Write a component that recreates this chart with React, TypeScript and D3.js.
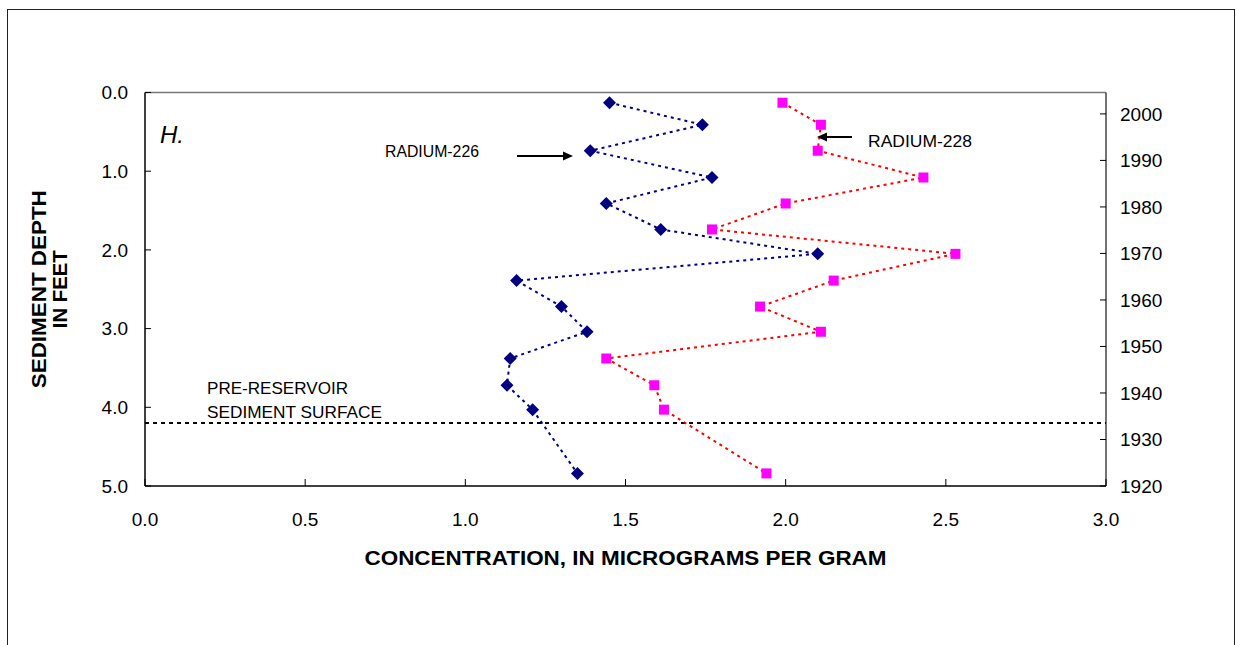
import React from 'react';
import * as d3 from 'd3';

// sample depths (feet) shared by both series
const depths = [0.13, 0.41, 0.74, 1.08, 1.41, 1.74, 2.05, 2.39, 2.72, 3.04, 3.38, 3.72, 4.03, 4.84];
const radium226 = [1.45, 1.74, 1.39, 1.77, 1.44, 1.61, 2.10, 1.16, 1.30, 1.38, 1.14, 1.13, 1.21, 1.35];
const radium228 = [1.99, 2.11, 2.10, 2.43, 2.00, 1.77, 2.53, 2.15, 1.92, 2.11, 1.44, 1.59, 1.62, 1.94];

const xTicks = [0, 0.5, 1, 1.5, 2, 2.5, 3];
const depthTicks = [0, 1, 2, 3, 4, 5];
const yearTicks = [2000, 1990, 1980, 1970, 1960, 1950, 1940, 1930, 1920];
const preReservoirDepth = 4.2;

const W = 1236;
const H = 645;
const plot = { left: 145, right: 1106, top: 92.5, bottom: 486 };
const font = '"Liberation Sans", Arial, sans-serif';

export default function App() {
  const x = d3.scaleLinear().domain([0, 3]).range([plot.left, plot.right]);
  const y = d3.scaleLinear().domain([0, 5]).range([plot.top, plot.bottom]);
  const yYear = d3.scaleLinear().domain([1920, 2004.6]).range([plot.bottom, plot.top]);

  const pts226 = depths.map((d, i) => [x(radium226[i]), y(d)] as [number, number]);
  const pts228 = depths.map((d, i) => [x(radium228[i]), y(d)] as [number, number]);
  const line = d3.line();

  const diamond = (cx: number, cy: number, r = 6.5) =>
    `M${cx},${cy - r}L${cx + r},${cy}L${cx},${cy + r}L${cx - r},${cy}Z`;

  const midY = (plot.top + plot.bottom) / 2;

  return (
    <svg width={W} height={H} style={{ position: 'absolute', left: 0, top: 0, background: '#fff' }}
      fontFamily={font}>
      <rect x={7.5} y={9.5} width={1227} height={700} fill="none" stroke="#222" strokeWidth={1} />

      {/* plot frame */}
      <line x1={plot.left} x2={plot.right} y1={plot.top} y2={plot.top} stroke="#777" strokeWidth={1.5} />
      <line x1={plot.right} x2={plot.right} y1={plot.top} y2={plot.bottom} stroke="#444" strokeWidth={1.5} />
      <line x1={plot.left} x2={plot.left} y1={plot.top} y2={plot.bottom} stroke="#000" strokeWidth={1.5} />
      <line x1={plot.left} x2={plot.right} y1={plot.bottom} y2={plot.bottom} stroke="#000" strokeWidth={1.5} />

      {/* left axis */}
      {depthTicks.map(t => (
        <g key={'d' + t}>
          <line x1={plot.left} x2={plot.left + 6} y1={y(t)} y2={y(t)} stroke="#000" />
          <text x={plot.left - 17} y={y(t)} dy="0.35em" textAnchor="end" fontSize={19}>{t.toFixed(1)}</text>
        </g>
      ))}
      {/* right axis (years) */}
      {yearTicks.map(t => (
        <g key={'y' + t}>
          <line x1={plot.right - 6} x2={plot.right} y1={yYear(t)} y2={yYear(t)} stroke="#000" />
          <text x={plot.right + 14} y={yYear(t)} dy="0.35em" textAnchor="start" fontSize={19}>{t}</text>
        </g>
      ))}
      {/* bottom axis */}
      {xTicks.map(t => (
        <g key={'x' + t}>
          <line x1={x(t)} x2={x(t)} y1={plot.bottom} y2={plot.bottom - 7} stroke="#000" />
          <text x={x(t)} y={plot.bottom + 33} dy="0.35em" textAnchor="middle" fontSize={19}>{t.toFixed(1)}</text>
        </g>
      ))}

      <text x={(plot.left + plot.right) / 2} y={558} dy="0.35em" textAnchor="middle" fontSize={20}
        fontWeight="bold" textLength={522} lengthAdjust="spacingAndGlyphs">
        CONCENTRATION, IN MICROGRAMS PER GRAM
      </text>
      <text transform={`translate(39,${midY}) rotate(-90)`} dy="0.35em" textAnchor="middle"
        fontSize={20} fontWeight="bold" textLength={198} lengthAdjust="spacingAndGlyphs">SEDIMENT DEPTH</text>
      <text transform={`translate(60,${midY}) rotate(-90)`} dy="0.35em" textAnchor="middle"
        fontSize={20} fontWeight="bold" textLength={78} lengthAdjust="spacingAndGlyphs">IN FEET</text>

      {/* pre-reservoir surface */}
      <line x1={plot.left} x2={plot.right} y1={y(preReservoirDepth)} y2={y(preReservoirDepth)}
        stroke="#000" strokeWidth={2} strokeDasharray="4,4" />
      <text x={207} y={y(preReservoirDepth) - 29} fontSize={17} textLength={141} lengthAdjust="spacingAndGlyphs">PRE-RESERVOIR</text>
      <text x={207} y={y(preReservoirDepth) - 5} fontSize={17} textLength={175} lengthAdjust="spacingAndGlyphs">SEDIMENT SURFACE</text>

      <text x={160} y={143} fontSize={24} fontStyle="italic">H.</text>

      {/* series */}
      <path d={line(pts228) ?? ''} fill="none" stroke="#ff0000" strokeWidth={2} strokeDasharray="3,4" />
      <path d={line(pts226) ?? ''} fill="none" stroke="#000080" strokeWidth={2} strokeDasharray="3,4" />
      {pts228.map(([cx, cy], i) => (
        <rect key={'s' + i} x={cx - 5} y={cy - 5} width={10} height={10} fill="#ff00ff" />
      ))}
      {pts226.map(([cx, cy], i) => (
        <path key={'r' + i} d={diamond(cx, cy)} fill="#000080" />
      ))}

      {/* annotations */}
      <text x={385} y={157} fontSize={17} textLength={94} lengthAdjust="spacingAndGlyphs">RADIUM-226</text>
      <line x1={517} x2={566} y1={156} y2={156} stroke="#000" strokeWidth={2} />
      <path d="M573,156 L563,151.5 L563,160.5 Z" fill="#000" />
      <text x={868} y={147} fontSize={17} textLength={104} lengthAdjust="spacingAndGlyphs">RADIUM-228</text>
      <line x1={852} x2={824} y1={137} y2={137} stroke="#000" strokeWidth={2} />
      <path d="M817,137 L827,132.5 L827,141.5 Z" fill="#000" />
    </svg>
  );
}
